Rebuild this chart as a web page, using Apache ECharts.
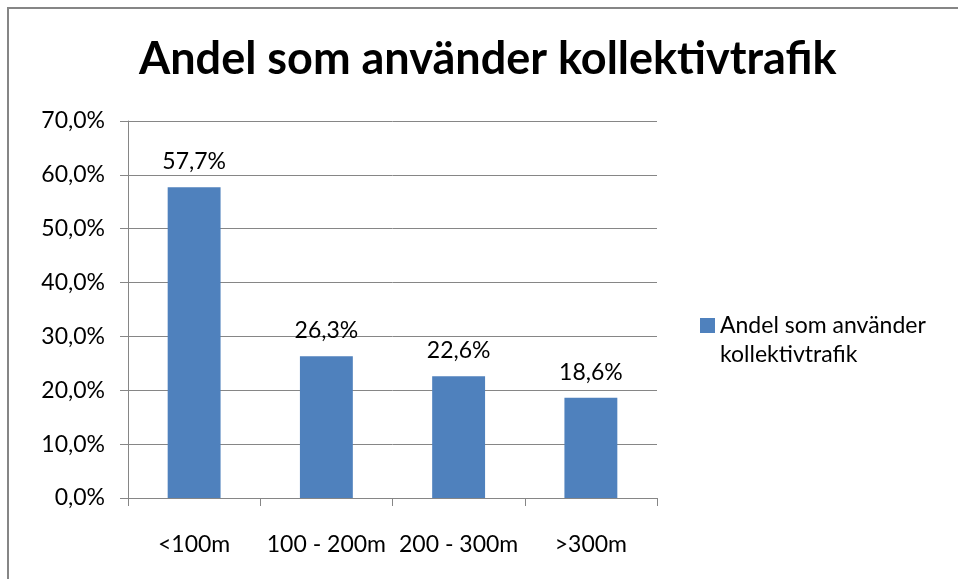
<!DOCTYPE html>
<html>
<head>
<meta charset="utf-8">
<script src="https://cdn.jsdelivr.net/npm/echarts@6/dist/echarts.min.js"></script>
<style>
    html, body { margin: 0; padding: 0; background: #fff; }
    #chart { width: 958px; height: 579px; }
    .frame {
        position: absolute; left: 7px; top: 7px; right: 0; bottom: 0;
        border-left: 2px solid #868686; border-top: 2px solid #868686;
        pointer-events: none;
    }
</style>
</head>
<body>
<div id="chart"></div>
<div class="frame"></div>
<script>
    var categories = ['<100m', '100 - 200m', '200 - 300m', '>300m'];
    var shares = [57.7, 26.3, 22.6, 18.6];
    var seriesName = 'Andel som använder kollektivtrafik';
    var titleText = 'Andel som använder kollektivtrafik';

    var font = 'Lato, "Open Sans", sans-serif';
    function pct(v) {
        return v.toFixed(1).replace('.', ',') + '%';
    }

    var chart = echarts.init(document.getElementById('chart'), null, { renderer: 'canvas' });
    chart.setOption({
        animation: false,
        title: {
            text: titleText,
            left: 134,
            top: 32,
            textStyle: { fontFamily: font, fontWeight: 'bold', fontSize: 45, color: '#000' }
        },
        legend: {
            data: [seriesName],
            left: 700,
            top: 314,
            padding: 0,
            itemWidth: 15,
            itemHeight: 15,
            itemGap: 0,
            icon: 'rect',
            formatter: function () { return 'Andel som använder'; },
            textStyle: { fontFamily: font, fontSize: 23, color: '#000' }
        },
        // second legend line, Excel wraps the long name
        graphic: [{
            type: 'text',
            left: 720,
            top: 343,
            style: { text: 'kollektivtrafik', fontFamily: font, fontSize: 23, fill: '#000' }
        }],
        grid: { left: 128, right: 958 - 657, top: 121, bottom: 579 - 498, containLabel: false },
        xAxis: {
            type: 'category',
            data: categories,
            axisLine: { lineStyle: { color: '#868686', width: 1 } },
            axisTick: { show: true, length: 8, lineStyle: { color: '#868686' } },
            axisLabel: { fontFamily: font, fontSize: 23, color: '#000', margin: 35, interval: 0 }
        },
        yAxis: {
            type: 'value',
            min: 0,
            max: 70,
            interval: 10,
            axisLine: { show: true, lineStyle: { color: '#868686' } },
            axisTick: { show: true, length: 8, lineStyle: { color: '#868686' } },
            splitLine: { lineStyle: { color: '#868686' } },
            axisLabel: { fontFamily: font, fontSize: 23, color: '#000', margin: 23, formatter: pct }
        },
        series: [{
            name: seriesName,
            type: 'bar',
            data: shares,
            barWidth: '40%',
            itemStyle: { color: '#4F81BD' },
            label: {
                show: true,
                position: 'top',
                distance: 14,
                fontFamily: font,
                fontSize: 23,
                color: '#000',
                formatter: function (p) { return pct(p.value); }
            }
        }]
    });
</script>
</body>
</html>
